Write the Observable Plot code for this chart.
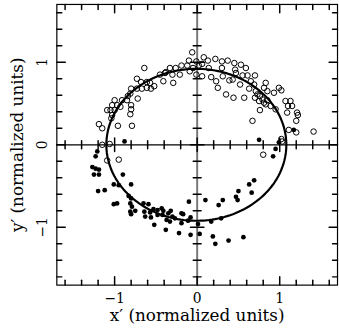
<!DOCTYPE html>
<html><head><meta charset="utf-8">
<script src="https://cdn.jsdelivr.net/npm/d3@7"></script>
<script src="https://cdn.jsdelivr.net/npm/@observablehq/plot@0.6"></script>
<style>body{margin:0;background:#fff} #c{width:339px;height:331px;overflow:hidden}</style>
</head><body><div id="c"></div><script>
// open circles (upper branch)
const openPts = [
[-0.64,0.93],[-0.45,0.85],[-0.38,0.88],[-0.73,0.80],[-0.68,0.76],[-0.61,0.76],[-0.57,0.75],[-0.80,0.68],[-0.73,0.68],[-0.67,0.68],
[-0.61,0.69],[-0.56,0.68],[-0.52,0.71],[-0.81,0.62],[-0.84,0.59],[-0.72,0.56],[-0.85,0.54],[-0.91,0.54],[-1.00,0.54],[-0.97,0.48],
[-1.03,0.48],[-1.09,0.42],[-1.05,0.42],[-1.00,0.42],[-0.93,0.46],[-0.80,0.48],[-0.80,0.43],[-0.81,0.37],[-1.03,0.36],[-1.04,0.32],
[-1.19,0.25],[-1.15,0.20],[-0.96,0.23],[-0.79,0.23],[-1.15,0.00],[-1.06,0.01],[-0.95,-0.18],[-1.09,-0.19],
[-0.06,1.12],[0.08,1.06],[0.22,1.04],[-0.10,1.02],[-0.01,1.01],[0.13,1.02],[0.30,1.01],[0.37,1.02],[0.45,0.99],[0.53,0.97],
[-0.33,0.93],[-0.26,0.93],[-0.19,0.96],[-0.12,0.96],[-0.05,0.93],[0.02,0.96],[0.06,0.98],[0.14,0.93],[0.30,0.93],[0.46,0.91],
[-0.39,0.87],[-0.30,0.85],[-0.21,0.85],[-0.09,0.89],[-0.01,0.85],[0.06,0.83],[0.17,0.82],[0.31,0.83],[0.39,0.78],[0.43,0.79],
[0.52,0.73],[-0.41,0.77],[-0.29,0.75],[0.23,0.77],[0.25,0.69],[0.35,0.61],[0.44,0.57],
[0.59,0.93],[0.47,0.87],[0.55,0.84],[0.61,0.84],[0.70,0.84],[0.65,0.77],[0.83,0.75],[0.69,0.73],[0.63,0.68],[0.71,0.65],
[0.81,0.69],[0.85,0.65],[0.93,0.63],[0.99,0.69],[1.02,0.66],[0.73,0.61],[0.76,0.59],[0.70,0.57],[0.79,0.55],[0.85,0.54],
[0.75,0.53],[0.81,0.51],[0.57,0.57],[0.83,0.49],[0.89,0.47],[0.95,0.43],[0.76,0.42],[1.07,0.53],[1.13,0.53],[1.10,0.47],
[1.15,0.47],[1.21,0.39],[1.22,0.36],[1.20,0.29],[1.09,0.39],[0.67,0.29],[1.11,0.18],[1.20,0.15],[1.41,0.16],[1.02,0.07],
[1.03,0.04],[0.80,-0.12]
];
// filled dots (lower branch)
const filledPts = [
[-0.88,0.04],[-1.21,-0.08],[-1.23,-0.14],[-1.27,-0.27],[-1.23,-0.29],[-1.19,-0.30],[-1.25,-0.36],[-1.19,-0.36],[-0.90,-0.36],
[-1.20,-0.56],[-1.12,-0.55],[-1.01,-0.48],[-0.95,-0.49],[-0.80,-0.48],[-0.83,-0.62],[-0.80,-0.65],[-1.01,-0.72],[-0.97,-0.71],
[-0.81,-0.71],[-0.79,-0.75],[-0.81,-0.81],[-0.75,-0.80],[-0.80,-0.84],
[-0.65,-0.71],[-0.59,-0.72],[-0.64,-0.81],[-0.57,-0.82],[-0.53,-0.78],[-0.48,-0.79],[-0.43,-0.77],[-0.41,-0.80],[-0.63,-0.87],
[-0.56,-0.88],[-0.52,-0.97],[-0.48,-0.85],[-0.42,-0.85],[-0.38,-1.03],[-0.37,-0.91],
[-0.35,-0.83],[-0.32,-0.80],[-0.33,-0.93],[-0.30,-0.87],[-0.27,-0.89],[-0.19,-0.83],[-0.17,-0.84],[-0.19,-0.95],[-0.10,-0.69],
[-0.11,-0.92],[-0.08,-0.88],[-0.22,-1.07],[-0.08,-1.09],[0.03,-1.08],[0.01,-0.96],[0.10,-0.67],[0.17,-0.93],[0.26,-0.73],
[0.31,-0.67],[0.29,-0.89],[0.19,-1.11],[0.22,-1.20],[0.38,-1.16],[0.56,-1.12],[0.47,-0.63],[0.49,-0.67],[0.50,-0.56],
[0.63,-0.48],[0.69,-0.43],[0.66,-0.58],
[0.75,0.06],[0.99,0.03],[0.95,-0.05],[0.92,-0.14],[1.17,0.18]
];
// fitted ellipse parameters
const ellipseCx = -0.01, ellipseCy = 0.0, ellipseA = 1.09, ellipseB = 0.92;
// ticks
const majorTicks = [-1, 0, 1];
const minorTicks = [-1.6,-1.4,-1.2,-0.8,-0.6,-0.4,-0.2,0.2,0.4,0.6,0.8,1.2,1.4,1.6];
const tickLabels = ["\u22121", "0", "1"];
const xLabel = "x\u2032 (normalized units)";
const yLabel = "y\u2032 (normalized units)";

const ellipsePts = d3.range(0, 361, 2).map(t => {
  const r = t * Math.PI / 180;
  return [ellipseCx + ellipseA * Math.cos(r), ellipseCy + ellipseB * Math.sin(r)];
});
const stick = {draw(ctx, l) { ctx.moveTo(0, 0); ctx.lineTo(0, -l); }};
const font = "DejaVu Serif";
const frameTicks = (vals, len) => [
  Plot.vector(vals, {x: d => d, frameAnchor: "bottom", length: len, rotate: 0, anchor: "start", shape: stick, stroke: "black"}),
  Plot.vector(vals, {x: d => d, frameAnchor: "top", length: len, rotate: 180, anchor: "start", shape: stick, stroke: "black"}),
  Plot.vector(vals, {y: d => d, frameAnchor: "left", length: len, rotate: 90, anchor: "start", shape: stick, stroke: "black"}),
  Plot.vector(vals, {y: d => d, frameAnchor: "right", length: len, rotate: -90, anchor: "start", shape: stick, stroke: "black"}),
  Plot.vector(vals, {x: d => d, y: () => 0, length: len * 1.6, rotate: 0, anchor: "middle", shape: stick, stroke: "black"}),
  Plot.vector(vals, {x: () => 0, y: d => d, length: len * 1.6, rotate: 90, anchor: "middle", shape: stick, stroke: "black"})
];

const chart = Plot.plot({
  width: 343, height: 331,
  marginLeft: 57, marginRight: 2, marginTop: 4, marginBottom: 43,
  x: {domain: [-1.7, 1.7], axis: null},
  y: {domain: [-1.7, 1.7], axis: null},
  style: {fontFamily: font, background: "white"},
  marks: [
    Plot.frame({stroke: "black", strokeWidth: 1.2}),
    Plot.ruleY([0], {stroke: "black", strokeWidth: 1.2}),
    Plot.ruleX([0], {stroke: "#777", strokeWidth: 2}),
    ...frameTicks(minorTicks, 5),
    ...frameTicks(majorTicks, 8.5),
    Plot.line(ellipsePts, {x: d => d[0], y: d => d[1], stroke: "black", strokeWidth: 2.2}),
    Plot.dot(openPts, {x: d => d[0], y: d => d[1], r: 2.8, stroke: "black", strokeWidth: 1, fill: "none"}),
    Plot.dot(filledPts, {x: d => d[0], y: d => d[1], r: 2.4, fill: "black", stroke: "none"}),
    Plot.text(majorTicks, {x: d => d, frameAnchor: "bottom", dy: 14, lineAnchor: "middle", textAnchor: "middle", text: (d, i) => tickLabels[i], fontSize: 14, fill: "black"}),
    Plot.text(majorTicks, {y: d => d, frameAnchor: "left", dx: -14, rotate: -90, lineAnchor: "middle", textAnchor: "middle", text: (d, i) => tickLabels[i], fontSize: 14, fill: "black"}),
    Plot.text([xLabel], {frameAnchor: "bottom", dy: 31, lineAnchor: "middle", textAnchor: "middle", text: d => d, fontSize: 17, fill: "black"}),
    Plot.text([yLabel], {frameAnchor: "left", dx: -40, rotate: -90, lineAnchor: "middle", textAnchor: "middle", text: d => d, fontSize: 17, fill: "black"})
  ]
});
document.getElementById("c").appendChild(chart);
</script></body></html>
